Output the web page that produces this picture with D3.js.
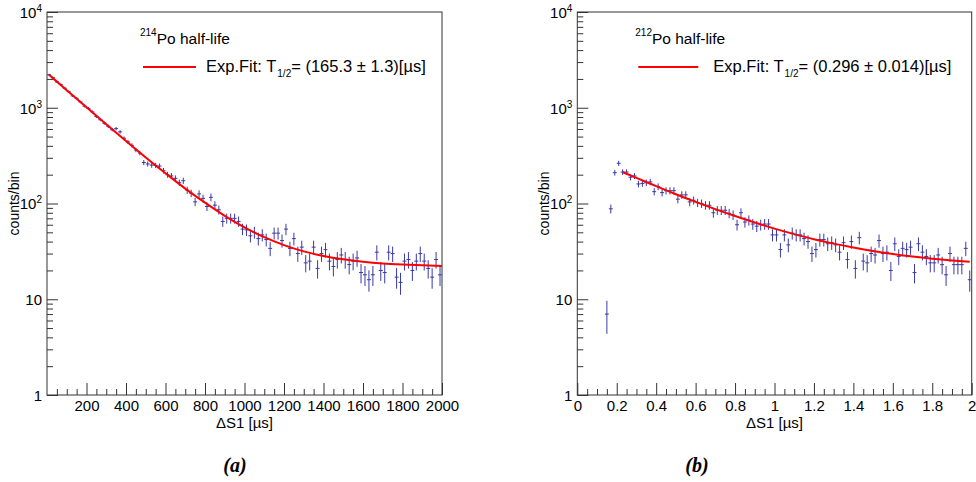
<!DOCTYPE html>
<html><head><meta charset="utf-8">
<script src="https://cdn.jsdelivr.net/npm/d3@7"></script>
<style>
body{margin:0;background:#fff}
svg{display:block}
text{font-family:"Liberation Sans",Arial,Helvetica,sans-serif;fill:#000}
text.tag{font-family:"Liberation Serif","DejaVu Serif",serif;font-weight:bold;font-style:italic}
</style>
</head><body>
<svg id="c" width="976" height="482"></svg>
<script>
// ---------- Panel (a): 214Po ----------
const binStartA = 10, binWidthA = 20;
const countsA = [2210,2060,1860,1745,1600,1470,1330,1255,1150,1040,985,905,810,750,690,640,590,605,560,480,440,405,362,336,
  268,259,252,250,246,220,200,194,183,165,173,138,128,104,126,113,93,116,96,86,65,70,
  70,70,65,54,53,46,50,43,47,42,34,49,49,41,54,34,43,30,35,24,25,35,21,30,33,25,22,26,29,26,23,25,27,19,18,16,18,31,20,19,31,30,17,15,25,26,20,25,30,25,21,17,26,18];
const fitXA = [10,100,200,300,400,500,600,700,800,900,1000,1100,1200,1300,1400,1500,1600,1700,1800,1900,2000];
const fitYA = [2218,1527,1012,673,450,303,207,143,102,74.4,56.4,44.5,36.8,31.6,28.3,26.1,24.6,23.6,23.0,22.6,22.3];
const xTicksA = [200,400,600,800,1000,1200,1400,1600,1800,2000];

// ---------- Panel (b): 212Po ----------
const binStartB = 0.15, binWidthB = 0.02;
const countsB = [7,88,210,263,213,213,188,194,160,162,
  165,168,133,150,130,136,136,136,111,123,
  123,104,108,102,100,96,96,80,85,85,
  85,79,76,60,80,64,67,61,58,60,
  61,61,47,47,33,47,37,49,47,47,
  43,40,30,33,42,42,38,39,37,31,
  39,26,40,21,44,25,24,30,29,41,
  30,31,20,38,28,34,33,35,19,38,
  31,28,24,24,29,23,18,30,23,23,
  23,34,16];
const fitXB = [0.23,0.3,0.4,0.5,0.6,0.7,0.8,0.9,1.0,1.1,1.2,1.3,1.4,1.5,1.6,1.7,1.8,1.9,1.99];
const fitYB = [213,185,152,125,104,87.4,74,63.3,54.7,47.9,42.4,38.1,34.7,31.9,29.7,27.9,26.5,25.4,24.6];
const xTicksB = [0,0.2,0.4,0.6,0.8,1,1.2,1.4,1.6,1.8,2];

const yMajor = [1,10,100,1000,10000];
const legendA = {iso:"214", rest:"Po half-life", fit:"(165.3 \u00B1 1.3)[\u00B5s]"};
const legendB = {iso:"212", rest:"Po half-life", fit:"(0.296 \u00B1 0.014)[\u00B5s]"};

const svg = d3.select("#c");
const axisColor = "#333";
const dataColor = "#3a3aa6";

function drawPanel(cfg){
  const {x0,x1,y0,y1,xDomain,xTicks,xMinorStep,counts,binStart,binWidth,fitX,fitY,legend,tag,tagX,fmt} = cfg;
  const x = d3.scaleLinear().domain(xDomain).range([x0,x1]);
  const y = d3.scaleLog().domain([1,10000]).range([y1,y0]);
  const g = svg.append("g");

  const xMinor = [];
  for(let v=xDomain[0]; v<=xDomain[1]+1e-9; v+=xMinorStep){
    const r = Math.round(v/xMinorStep)*xMinorStep;
    if(!xTicks.some(t=>Math.abs(t-r)<1e-9) && r>xDomain[0]+1e-9) xMinor.push(r);
  }
  g.append("g").attr("transform",`translate(0,${y1})`)
    .call(d3.axisBottom(x).tickValues(xMinor).tickSize(-6).tickFormat(""))
    .call(s=>{s.select(".domain").remove(); s.selectAll("line").attr("stroke",axisColor);});
  g.append("g").attr("transform",`translate(0,${y1})`)
    .call(d3.axisBottom(x).tickValues(xTicks).tickSize(-12).tickPadding(5).tickFormat(fmt))
    .call(s=>{s.select(".domain").remove(); s.selectAll("line").attr("stroke",axisColor);
      s.selectAll("text").attr("font-size",15).attr("fill","#000");});

  const yMinor = [];
  for(let d=1; d<10000; d*=10){ for(let k=2;k<=9;k++) yMinor.push(d*k); }
  g.append("g").attr("transform",`translate(${x0},0)`)
    .call(d3.axisLeft(y).tickValues(yMinor).tickSize(-6).tickFormat(""))
    .call(s=>{s.select(".domain").remove(); s.selectAll("line").attr("stroke",axisColor);});
  const ya = g.append("g").attr("transform",`translate(${x0},0)`)
    .call(d3.axisLeft(y).tickValues(yMajor).tickSize(-11).tickPadding(5).tickFormat(""))
    .call(s=>{s.select(".domain").remove(); s.selectAll("line").attr("stroke",axisColor);});
  ya.selectAll(".tick").each(function(d){
    const t = d3.select(this).append("text").attr("x",-5).attr("dy","0.35em")
      .attr("text-anchor","end").attr("font-size",15).attr("fill","#000");
    if(d<100){ t.text(String(d)); }
    else {
      t.append("tspan").text("10");
      t.append("tspan").attr("font-size",10).attr("dy","-0.6em").text(String(Math.round(Math.log10(d))));
    }
  });

  g.append("rect").attr("x",x0).attr("y",y0).attr("width",x1-x0).attr("height",y1-y0)
    .attr("fill","none").attr("stroke",axisColor).attr("stroke-width",1);

  const dg = g.append("g").attr("stroke",dataColor).attr("stroke-width",1);
  counts.forEach((n,i)=>{
    const c = binStart + i*binWidth;
    const e = Math.sqrt(n);
    const lo = Math.max(n-e, 1.0001);
    dg.append("line").attr("x1",x(c)).attr("x2",x(c)).attr("y1",y(n+e)).attr("y2",y(lo));
    dg.append("line").attr("x1",x(c-binWidth/2)).attr("x2",x(c+binWidth/2)).attr("y1",y(n)).attr("y2",y(n));
  });

  const line = d3.line().x((d,i)=>x(fitX[i])).y((d,i)=>y(fitY[i])).curve(d3.curveMonotoneX);
  g.append("path").attr("d",line(fitX)).attr("fill","none").attr("stroke","#ff0000").attr("stroke-width",2);

  g.append("text").attr("x",(x0+x1)/2).attr("y",y1+33).attr("text-anchor","middle")
    .attr("font-size",15).text("\u0394S1 [\u00B5s]");
  g.append("text").attr("transform",`translate(${x0-28},${(y0+y1)/2}) rotate(-90)`)
    .attr("text-anchor","middle").attr("font-size",14).text("counts/bin");

  const lx = x0 + cfg.legOff;
  const t1 = g.append("text").attr("x",lx).attr("y",y0+29).attr("font-size",15.5);
  t1.append("tspan").attr("font-size",10).attr("dy","-0.55em").text(legend.iso);
  t1.append("tspan").attr("dy","0.55em").text(legend.rest);
  g.append("line").attr("x1",lx+3).attr("x2",lx+3+cfg.legLine).attr("y1",y0+55).attr("y2",y0+55)
    .attr("stroke","#ff0000").attr("stroke-width",2);
  const t2 = g.append("text").attr("x",lx+cfg.legText).attr("y",y0+60).attr("font-size",16.5);
  t2.append("tspan").text("Exp.Fit: T");
  t2.append("tspan").attr("font-size",10).attr("dy","5").attr("dx","1").text("1/2");
  t2.append("tspan").attr("dy","-5").text("= " + legend.fit);

  svg.append("text").attr("class","tag").attr("x",tagX).attr("y",472).attr("text-anchor","middle")
    .attr("font-size",20).text(tag);
}

drawPanel({x0:47,x1:442,y0:12,y1:395,xDomain:[0,2000],xTicks:xTicksA,xMinorStep:50,
  counts:countsA,binStart:binStartA,binWidth:binWidthA,fitX:fitXA,fitY:fitYA,legend:legendA,
  tag:"(a)",tagX:235,fmt:d=>String(d),legOff:93,legLine:53,legText:66});
drawPanel({x0:577.3,x1:971.7,y0:12,y1:395,xDomain:[0,2],xTicks:xTicksB,xMinorStep:0.05,
  counts:countsB,binStart:binStartB,binWidth:binWidthB,fitX:fitXB,fitY:fitYB,legend:legendB,
  tag:"(b)",tagX:697,fmt:d=>String(d),legOff:58,legLine:60,legText:78});
</script>
</body></html>
